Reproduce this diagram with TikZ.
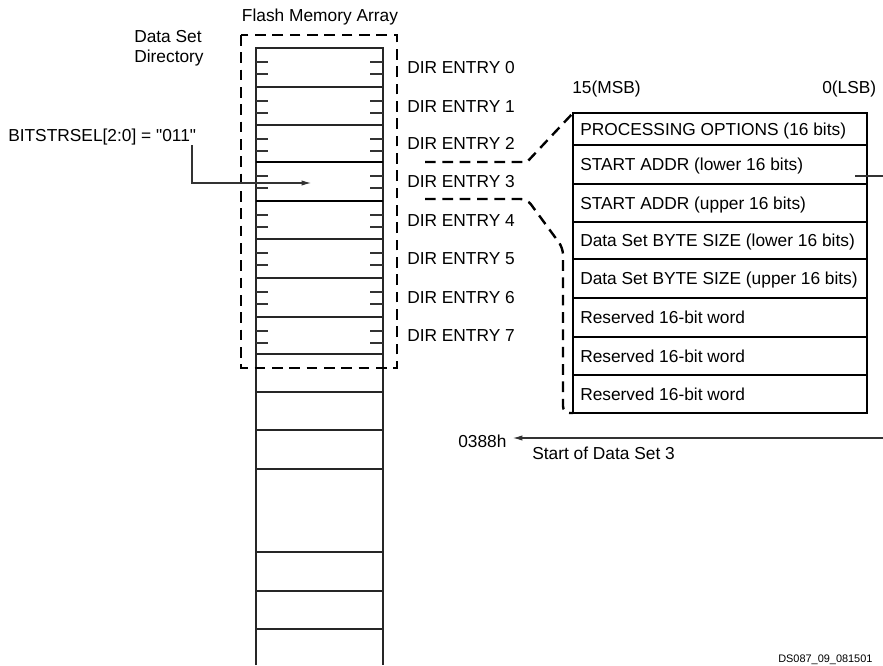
\documentclass[tikz,border=0pt]{standalone}
\usepackage{fontspec}
\setmainfont{Liberation Sans}
\usetikzlibrary{arrows.meta}
\begin{document}
\begin{tikzpicture}[x=0.75pt,y=-0.75pt,
  lbl/.style={inner sep=0pt, font=\fontsize{13}{15.6}\selectfont},
  tiny/.style={inner sep=0pt, font=\fontsize{8.2}{9.8}\selectfont},
  col/.style={line width=0.9pt, draw=black!85},
  rowline/.style={line width=0.8pt, draw=black!85},
  thickrow/.style={line width=1.6pt, draw=black},
  tick/.style={line width=0.8pt, draw=black!80},
  dsh/.style={line width=1.8pt, dash pattern=on 8pt off 5pt},
  tableframe/.style={line width=1.6pt},
  conn/.style={line width=0.8pt, draw=black!80},
  tip/.style={-{Latex[length=7pt,width=4pt]}}]
\useasboundingbox (0,0) rectangle (883,665);
\fill[white] (0,0) rectangle (883,665);

% ---- titles
\node[lbl] (flashtitle) at (320,17) {Flash Memory Array};
\node[lbl, anchor=base] (dsdir1) at (168,42) {Data Set};
\node[lbl, anchor=base] (dsdir2) at (169,62) {Directory};

% ---- flash memory column
\draw[col] (256,665) -- (256,48) -- (383,48) -- (383,665);
\foreach \yy in {87,125,239,278,317,354,392,430,469,552,591,629}
  \draw[rowline] (256,\yy) -- (383,\yy);
\foreach \yy in {162,201}
  \draw[thickrow] (256,\yy) -- (383,\yy);
\foreach \t in {48,87,125,162,201,239,278,317} {
  \draw[tick] (256,\t+14) -- (268,\t+14);
  \draw[tick] (256,\t+26) -- (268,\t+26);
  \draw[tick] (370,\t+14) -- (383,\t+14);
  \draw[tick] (370,\t+26) -- (383,\t+26);
}
% directory dashed frame
\draw[dsh] (241,35) rectangle (397,368);

% ---- DIR ENTRY labels
\foreach \i/\c in {0/67.5,1/106,2/143.5,3/181.5,4/220,5/258.5,6/297.5,7/335.5}
  \node[lbl, anchor=base west] (dir\i) at (407,\c+6) {DIR ENTRY \i};

% ---- selector
\node[lbl, anchor=base west] (bits) at (8,141) {BITSTRSEL[2:0] = \textquotedbl011\textquotedbl};
\coordinate (selstart) at (192,145);
\coordinate (selcorner) at (192,183);
\coordinate (seltip) at (311,183);
\draw[conn, tip] (selstart) -- (selcorner) -- (seltip);

% ---- detail table
\node[lbl, anchor=base west] (msb) at (572,93) {15(MSB)};
\node[lbl, anchor=base west] (lsb) at (822,93) {0(LSB)};
\coordinate (tabTL) at (573,113);
\coordinate (tabBR) at (867,413);
\coordinate (tabBL) at (573,413);
\foreach \yy in {145,184,222,259,298,337,375}
  \draw[rowline, draw=black] (573,\yy) -- (867,\yy);
\draw[tableframe] (tabTL) rectangle (tabBR);
\node[lbl, anchor=base west] (r1) at (580,135) {PROCESSING OPTIONS (16 bits)};
\node[lbl, anchor=base west] (r2) at (580,170.5) {START ADDR (lower 16 bits)};
\node[lbl, anchor=base west] (r3) at (580,209) {START ADDR (upper 16 bits)};
\node[lbl, anchor=base west] (r4) at (580,246.5) {Data Set BYTE SIZE (lower 16 bits)};
\node[lbl, anchor=base west] (r5) at (580,284.5) {Data Set BYTE SIZE (upper 16 bits)};
\node[lbl, anchor=base west] (r6) at (580,323.5) {Reserved 16-bit word};
\node[lbl, anchor=base west] (r7) at (580,362) {Reserved 16-bit word};
\node[lbl, anchor=base west] (r8) at (580,400) {Reserved 16-bit word};

% ---- zoom lines
\coordinate (zu1) at (425,162);
\coordinate (zu2) at (527,162);
\coordinate (zl1) at (425,199);
\coordinate (zl2) at (527,199);
\draw[dsh] (zu1) -- (zu2) -- (tabTL);
\draw[dsh, rounded corners=5pt] (zl1) -- (zl2) -- (563,248) -- (563,413) -- (tabBL);

% ---- start address pointer
\coordinate (addrA) at (855,176);
\coordinate (addrB) at (884,176);
\draw[conn] (addrA) -- (addrB);
\node[lbl, anchor=base west] (addr) at (458,447) {0388h};
\node[lbl, anchor=base west] (startds) at (532,459) {Start of Data Set 3};
\coordinate (arrowR) at (884,438);
\coordinate (arrowL) at (513,438);
\draw[conn, tip] (arrowR) -- (arrowL);

% ---- figure code
\node[tiny, anchor=base west] (code) at (778,662) {DS087\_09\_081501};
\end{tikzpicture}
\end{document}
